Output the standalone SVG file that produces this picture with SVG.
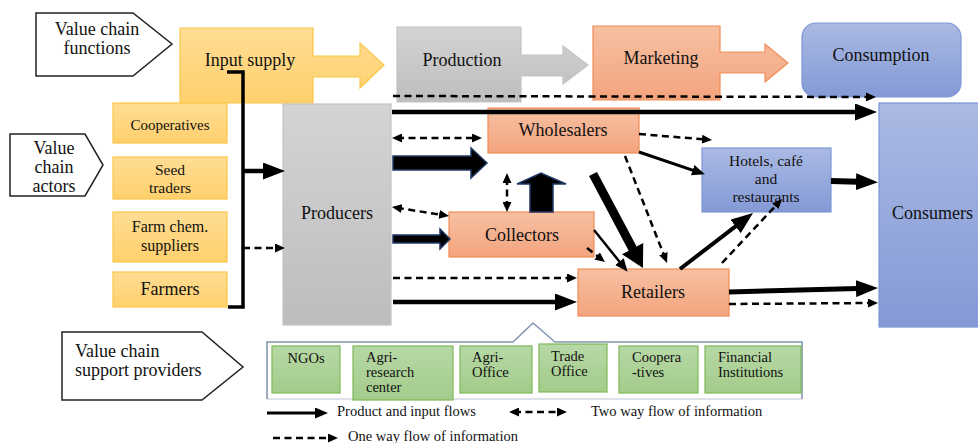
<svg xmlns="http://www.w3.org/2000/svg" width="978" height="443" viewBox="0 0 978 443">
<defs>
<linearGradient id="gy" x1="0" y1="0" x2="0" y2="1"><stop offset="0" stop-color="#FFDD94"/><stop offset="1" stop-color="#FFD06C"/></linearGradient>
<linearGradient id="gg" x1="0" y1="0" x2="0" y2="1"><stop offset="0" stop-color="#D4D4D4"/><stop offset="1" stop-color="#BDBDBD"/></linearGradient>
<linearGradient id="gs" x1="0" y1="0" x2="0" y2="1"><stop offset="0" stop-color="#F6C0A2"/><stop offset="1" stop-color="#F4A47E"/></linearGradient>
<linearGradient id="gb" x1="0" y1="0" x2="0" y2="1"><stop offset="0" stop-color="#AABAE3"/><stop offset="1" stop-color="#8499D6"/></linearGradient>
<linearGradient id="gn" x1="0" y1="0" x2="0" y2="1"><stop offset="0" stop-color="#B7D8A5"/><stop offset="1" stop-color="#A3CC8B"/></linearGradient>
<marker id="hb" markerUnits="userSpaceOnUse" markerWidth="22" markerHeight="17" refX="11" refY="8.5" orient="auto"><path d="M0,0 L22,8.5 L0,17 z" fill="#000"/></marker>
<marker id="hx" markerUnits="userSpaceOnUse" markerWidth="22" markerHeight="24" refX="11" refY="12" orient="auto"><path d="M0,0 L22,12 L0,24 z" fill="#000"/></marker>
<marker id="hm" markerUnits="userSpaceOnUse" markerWidth="13" markerHeight="11" refX="6" refY="5.5" orient="auto"><path d="M0,0 L13,5.5 L0,11 z" fill="#000"/></marker>
<marker id="hs" markerUnits="userSpaceOnUse" markerWidth="10" markerHeight="9" refX="5" refY="4.5" orient="auto-start-reverse"><path d="M0,0 L10,4.5 L0,9 z" fill="#000"/></marker>
</defs>
<style>
text{font-family:"Liberation Serif","DejaVu Serif","Times New Roman",serif;fill:#111;}
.t{font-size:18px;text-anchor:middle;}
.m{font-size:16px;text-anchor:middle;}
.n{font-size:15.5px;text-anchor:middle;}
.s{font-size:15px;text-anchor:middle;}
.g{font-size:14.5px;}
.l{font-size:14.5px;}
.lab{fill:#fff;stroke:#222;stroke-width:1.5;}
.y{fill:url(#gy);stroke:#F8C748;stroke-width:1.2;}
.gr{fill:url(#gg);stroke:#C4C4C4;stroke-width:1.2;}
.sa{fill:url(#gs);stroke:#F08D57;stroke-width:1.2;}
.bl{fill:url(#gb);stroke:#7E97D6;stroke-width:1.2;}
.gn{fill:url(#gn);stroke:#7DBA59;stroke-width:1.2;}
.sol{fill:none;stroke:#000;}
.das{fill:none;stroke:#000;stroke-width:2.5;stroke-dasharray:7 4.5;}
.blk{fill:#000;stroke:#203864;stroke-width:1.5;}
</style>

<g id="label-functions">
<path class="lab" d="M36,13 H133 L172,44 L133,76 H36 Z"/>
<text class="t" x="97" y="35">Value chain</text>
<text class="t" x="97" y="54">functions</text>
</g>
<g id="input-supply">
<path class="y" d="M180,28 H313 V56 H360 V43 L384,65 L360,88 V77 H313 V103 H180 Z"/>
<text class="t" x="250" y="66">Input supply</text>
</g>
<g id="production">
<path class="gr" d="M397,27 H521 V55 H563 V46 L588,65 L563,84 V76 H521 V102 H397 Z"/>
<text class="t" x="462" y="66">Production</text>
</g>
<g id="marketing">
<path class="sa" d="M593,26 H720 V52 H765 V44 L788,63 L765,82 V73 H720 V100 H593 Z"/>
<text class="t" x="661" y="64">Marketing</text>
</g>
<g id="consumption">
<rect class="bl" x="802" y="23" width="159" height="74" rx="14"/>
<text class="t" x="881" y="61">Consumption</text>
</g>

<g id="label-actors">
<path class="lab" d="M10,134 H85 L103,165 L85,196 H10 Z"/>
<text class="t" x="54" y="154">Value</text>
<text class="t" x="54" y="173">chain</text>
<text class="t" x="54" y="192">actors</text>
</g>
<g id="cooperatives">
<rect class="y" x="113" y="103" width="114" height="40"/>
<text class="s" x="170" y="130">Cooperatives</text>
</g>
<g id="seed-traders">
<rect class="y" x="113" y="157" width="114" height="42"/>
<text class="n" x="170" y="175">Seed</text>
<text class="n" x="170" y="193">traders</text>
</g>
<g id="farm-chem">
<rect class="y" x="113" y="212" width="114" height="50"/>
<text class="m" x="170" y="232">Farm chem.</text>
<text class="m" x="170" y="251">suppliers</text>
</g>
<g id="farmers">
<rect class="y" x="113" y="272" width="114" height="35"/>
<text class="t" x="170" y="295">Farmers</text>
</g>
<g id="producers">
<rect class="gr" x="283" y="104" width="108" height="221"/>
<text class="t" x="337" y="219">Producers</text>
</g>
<g id="wholesalers">
<rect class="sa" x="488" y="108" width="151" height="45"/>
<text class="t" x="563" y="136">Wholesalers</text>
</g>
<g id="collectors">
<rect class="sa" x="449" y="212" width="145" height="45"/>
<text class="t" x="522" y="241">Collectors</text>
</g>
<g id="retailers">
<rect class="sa" x="578" y="269" width="151" height="47"/>
<text class="t" x="653" y="298">Retailers</text>
</g>
<g id="hotels">
<rect class="bl" x="702" y="148" width="129" height="64"/>
<text class="n" x="766" y="166">Hotels, café</text>
<text class="n" x="766" y="184">and</text>
<text class="n" x="766" y="202">restaurants</text>
</g>
<g id="consumers">
<rect class="bl" x="879" y="103" width="110" height="224"/>
<text class="t" x="892" y="219" style="text-anchor:start">Consumers</text>
</g>

<g id="label-support">
<path class="lab" d="M62,332 H202 L243,367 L202,400 H62 Z"/>
<text class="t" x="75" y="357" style="text-anchor:start">Value chain</text>
<text class="t" x="75" y="376" style="text-anchor:start">support providers</text>
</g>
<g id="support-providers">
<path d="M267,399 H802" fill="none" stroke="#D3D8E0" stroke-width="1.5"/>
<path d="M267,399 V342 H513 L533,323 L555,342 H802 V399" fill="none" stroke="#8497B0" stroke-width="1.6"/>
<g id="ngos"><rect class="gn" x="272" y="346" width="68" height="47"/><text class="g" x="306" y="363" style="text-anchor:middle">NGOs</text></g>
<g id="agri-research"><rect class="gn" x="353" y="346" width="100" height="54"/><text class="g" x="366" y="362">Agri-</text><text class="g" x="366" y="377">research</text><text class="g" x="366" y="392">center</text></g>
<g id="agri-office"><rect class="gn" x="460" y="346" width="72" height="47"/><text class="g" x="472" y="362">Agri-</text><text class="g" x="472" y="377">Office</text></g>
<g id="trade-office"><rect class="gn" x="539" y="344" width="68" height="48"/><text class="g" x="551" y="361">Trade</text><text class="g" x="551" y="376">Office</text></g>
<g id="coop-support"><rect class="gn" x="619" y="346" width="79" height="47"/><text class="g" x="632" y="362">Coopera</text><text class="g" x="632" y="377">-tives</text></g>
<g id="financial"><rect class="gn" x="705" y="346" width="96" height="47"/><text class="g" x="718" y="362">Financial</text><text class="g" x="718" y="377">Institutions</text></g>
</g>

<g id="connectors">
<path class="das" d="M393,96 L871,97" marker-end="url(#hs)"/>
<path class="sol" stroke-width="4.5" d="M392,112 L866,112" marker-end="url(#hb)"/>
<polyline class="sol" stroke-width="3.5" points="227,72 243,72 243,307 228,307"/>
<path class="sol" stroke-width="4.5" d="M243,171 L274,171" marker-end="url(#hb)"/>
<path class="das" d="M243,248 L280,248" marker-end="url(#hs)"/>
<path class="das" d="M397,138 L477,138" marker-start="url(#hs)" marker-end="url(#hs)"/>
<polygon class="blk" points="393,156 471,156 471,148 487,163 471,178 471,170 393,170"/>
<path class="das" d="M396.9,207.8 L444.1,215.2" marker-start="url(#hs)" marker-end="url(#hs)"/>
<polygon class="blk" points="393,235 440,235 440,229 450,239 440,249 440,243 393,243"/>
<path class="das" d="M393,278 L572,278" marker-end="url(#hs)"/>
<path class="sol" stroke-width="4.5" d="M393,302 L566,302" marker-end="url(#hb)"/>
<path class="das" d="M507,178 L507,207" marker-start="url(#hs)" marker-end="url(#hs)"/>
<polygon class="blk" points="530,212 530,184 517,184 541,173 566,184 553,184 553,212"/>
<path class="sol" stroke-width="9" d="M593,174 L637.8,258.3" marker-end="url(#hx)"/>
<path class="das" d="M625,156 L665.2,258.3" marker-end="url(#hs)"/>
<path class="sol" stroke-width="2.5" d="M594,230 L623.2,266.3" marker-end="url(#hm)"/>
<path class="das" d="M587,248 L601,258.9" marker-end="url(#hs)"/>
<path class="sol" stroke-width="3" d="M639,152 L698.3,172.1" marker-end="url(#hm)"/>
<path class="das" d="M639,134 L707,139.6" marker-end="url(#hs)"/>
<path class="sol" stroke-width="4" d="M680,269 L744.3,219.7" marker-end="url(#hb)"/>
<path class="das" d="M722,263 L778.6,202.6" marker-end="url(#hs)"/>
<path class="sol" stroke-width="6" d="M831,181 L867,182" marker-end="url(#hb)"/>
<path class="sol" stroke-width="5" d="M729,292 L867,288.3" marker-end="url(#hb)"/>
<path class="das" d="M729,304 L873,303" marker-end="url(#hs)"/>
</g>

<g id="legend">
<path class="sol" stroke-width="3" d="M267,413 L321,413" marker-end="url(#hm)"/>
<text class="l" x="337" y="416">Product and input flows</text>
<path class="das" d="M514,412 L562,412" marker-start="url(#hs)" marker-end="url(#hs)"/>
<text class="l" x="591" y="416">Two way flow of information</text>
<path class="das" d="M273,438 L333,438" marker-end="url(#hs)"/>
<text class="l" x="348" y="441">One way flow of information</text>
</g>
</svg>
